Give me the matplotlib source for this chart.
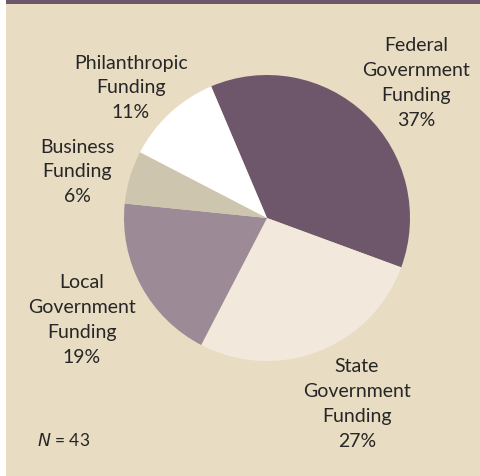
import matplotlib
matplotlib.use("Agg")
import matplotlib.pyplot as plt
from matplotlib.patches import Rectangle

# Funding sources (clockwise from the top)
categories = ["Federal\nGovernment\nFunding", "State\nGovernment\nFunding",
              "Local\nGovernment\nFunding", "Business\nFunding",
              "Philanthropic\nFunding"]
shares = [37, 27, 19, 6, 11]
colors = ["#6e576b", "#f2e9dc", "#9c8a96", "#cdc5ae", "#ffffff"]
sample_size = 43

# label centres in pixel space (x from left, y from top)
label_pos = [(416, 83), (357, 404), (82, 320), (77, 172), (131, 88)]

W, H = 480, 476
bg = "#e8dcc3"
text_color = "#262626"

fig = plt.figure(figsize=(W / 100, H / 100), dpi=100)
fig.patch.set_facecolor("white")
ax = fig.add_axes([0, 0, 1, 1])

ax.pie(shares, colors=colors, startangle=113, counterclock=False,
       center=(267, H - 218), radius=143,
       wedgeprops=dict(linewidth=0, antialiased=True))

ax.set_xlim(0, W)
ax.set_ylim(0, H)
ax.set_aspect("equal")
ax.axis("off")

# panel background and header band
ax.add_patch(Rectangle((6, 0), W - 6, H, facecolor=bg, edgecolor="none", zorder=-2))
ax.add_patch(Rectangle((6, H - 3.7), W - 6, 3.7, facecolor="#6e576b",
                       edgecolor="none", zorder=-1))

for cat, val, (x, y) in zip(categories, shares, label_pos):
    ax.text(x, H - y, f"{cat}\n{val}%", ha="center", va="center",
            fontsize=14, family="Lato", color=text_color, linespacing=1.55)

ax.text(37, H - 440, f"$N$ = {sample_size}", ha="left", va="center",
        fontsize=12.5, family="Lato", color=text_color)

fig.savefig("out.png", dpi=100, facecolor=fig.get_facecolor())
